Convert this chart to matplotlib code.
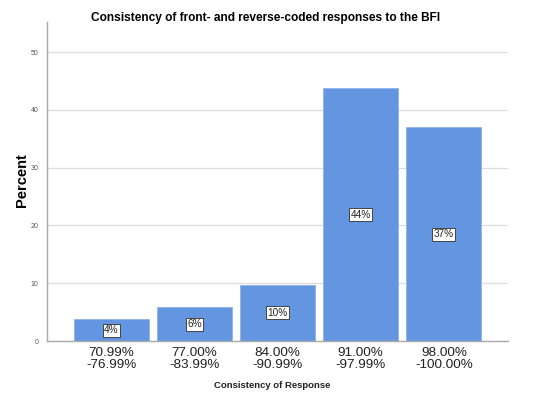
import matplotlib.pyplot as plt
import numpy as np

# values
categories = ["70.99%\n-76.99%", "77.00%\n-83.99%", "84.00%\n-90.99%",
              "91.00%\n-97.99%", "98.00%\n-100.00%"]
percents = [3.8, 5.8, 9.7, 43.7, 37.0]
bar_labels = ["4%", "6%", "10%", "44%", "37%"]
yticks = [0, 10, 20, 30, 40, 50]

plt.rcParams['font.family'] = ['Liberation Sans', 'DejaVu Sans']

fig = plt.figure(figsize=(5.34, 4.0), dpi=100)
ax = fig.add_axes([0.088, 0.1475, 0.863, 0.7975])

x = np.arange(len(categories))
bars = ax.bar(x, percents, width=0.9, color="#6495e0", edgecolor="#8fb2ea",
              linewidth=0.6, zorder=2)

for b, lab in zip(bars, bar_labels):
    ax.text(b.get_x() + b.get_width() / 2, b.get_height() / 2, lab,
            ha="center", va="center", fontsize=7.2, color="#222222", zorder=3,
            bbox=dict(boxstyle="square,pad=0.15", facecolor="white",
                      edgecolor="#444444", linewidth=0.7))

ax.set_xlim(-0.775, 4.77)
ax.set_ylim(0, 55.2)
ax.set_yticks(yticks)
ax.set_xticks(x)
ax.set_xticklabels(categories, fontsize=9.7, linespacing=1.1, color="#222222")
ax.tick_params(axis="both", length=0)
ax.tick_params(axis="y", labelsize=5, labelcolor="#555555", pad=6)
ax.tick_params(axis="x", pad=4)

ax.grid(axis="y", color="#dddddd", linewidth=0.9, zorder=0)
ax.set_axisbelow(True)
for side in ["top", "right"]:
    ax.spines[side].set_visible(False)
for side in ["left", "bottom"]:
    ax.spines[side].set_color("#aaaaaa")
    ax.spines[side].set_linewidth(1.0)

fig.text(22 / 534, 1 - 180 / 400, "Percent", rotation=90, ha="center", va="center",
         fontsize=10.5, fontweight="bold")
fig.text(272 / 534, 1 - 386 / 400, "Consistency of Response", ha="center", va="center",
         fontsize=6.8, fontweight="bold", color="#222222")
fig.text(265.5 / 534, 1 - 18 / 400,
         "Consistency of front- and reverse-coded responses to the BFI",
         ha="center", va="center", fontsize=8.6, fontweight="bold")

fig.savefig("out.png", dpi=100)
